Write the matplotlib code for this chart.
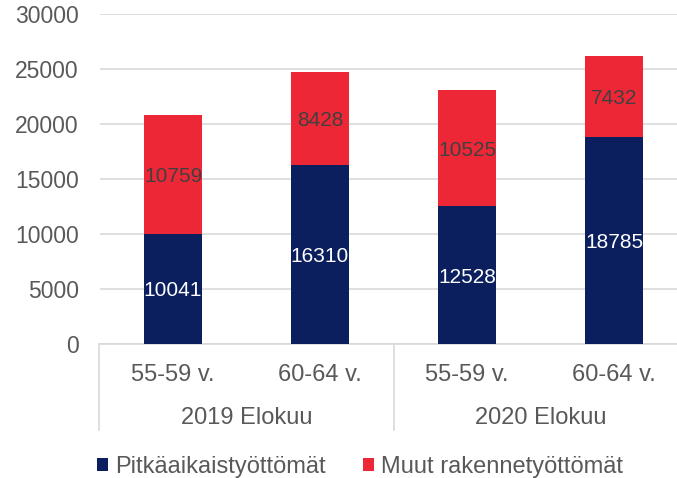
import matplotlib
matplotlib.use("Agg")
import matplotlib.pyplot as plt
from matplotlib.patches import Patch
from matplotlib.lines import Line2D

plt.rcParams['font.family'] = ['Liberation Sans', 'DejaVu Sans']

categories = ["55-59 v.", "60-64 v.", "55-59 v.", "60-64 v."]
groups = ["2019 Elokuu", "2020 Elokuu"]
long_term = [10041, 16310, 12528, 18785]
other = [10759, 8428, 10525, 7432]
series_names = ["Pitkäaikaistyöttömät", "Muut rakennetyöttömät"]

navy = "#0B1F5E"
red = "#EE2737"
grey_text = "#595959"
grid_c = "#D9D9D9"

fig = plt.figure(figsize=(6.77, 4.78), dpi=100)
ax = fig.add_axes([99.5/677, 1-344/478, 588/677, 330/478])

x = list(range(len(categories)))
w = 0.40
ax.bar(x, long_term, width=w, color=navy, zorder=3)
ax.bar(x, other, width=w, bottom=long_term, color=red, zorder=3)

for i in x:
    ax.text(i, long_term[i]/2, str(long_term[i]), ha='center', va='center_baseline',
            color='white', fontsize=15, zorder=4)
    ax.text(i, long_term[i] + other[i]/2, str(other[i]), ha='center', va='center_baseline',
            color='#404040', fontsize=15, zorder=4)

ax.set_xlim(-0.5, len(categories)-0.5)
ax.set_ylim(0, 30000)
ax.set_yticks(range(0, 30001, 5000))
ax.yaxis.grid(True, color=grid_c, linewidth=1.2, zorder=0)
ax.set_axisbelow(True)
for s in ['top', 'right', 'left']:
    ax.spines[s].set_visible(False)
ax.spines['bottom'].set_color(grid_c)
ax.spines['bottom'].set_linewidth(1.2)
ax.tick_params(axis='y', length=0, pad=15, labelsize=16.5, labelcolor=grey_text)
ax.tick_params(axis='x', length=0, labelbottom=False)

trans = ax.get_xaxis_transform()
for i, c in enumerate(categories):
    ax.text(i, -28.5/330, c, transform=trans, ha='center', va='center_baseline',
            fontsize=17, color=grey_text)
for g, name in enumerate(groups):
    ax.text(2*g + 0.5, -72/330, name, transform=trans, ha='center', va='center_baseline',
            fontsize=17, color=grey_text)
for xs in [-0.5, 1.5, 3.5]:
    ax.add_line(Line2D([xs, xs], [0, -86/330], transform=trans, color=grid_c,
                       linewidth=1.2, clip_on=False))

handles = [Patch(facecolor=navy), Patch(facecolor=red)]
fig.legend(handles, series_names, loc='center', bbox_to_anchor=(360/677, 1-467/478),
           ncol=2, frameon=False, fontsize=17, labelcolor=grey_text,
           handlelength=0.45, handleheight=0.45, handletextpad=0.3, columnspacing=1.6,
           borderpad=0, borderaxespad=0)

fig.savefig("out.png", dpi=100)
